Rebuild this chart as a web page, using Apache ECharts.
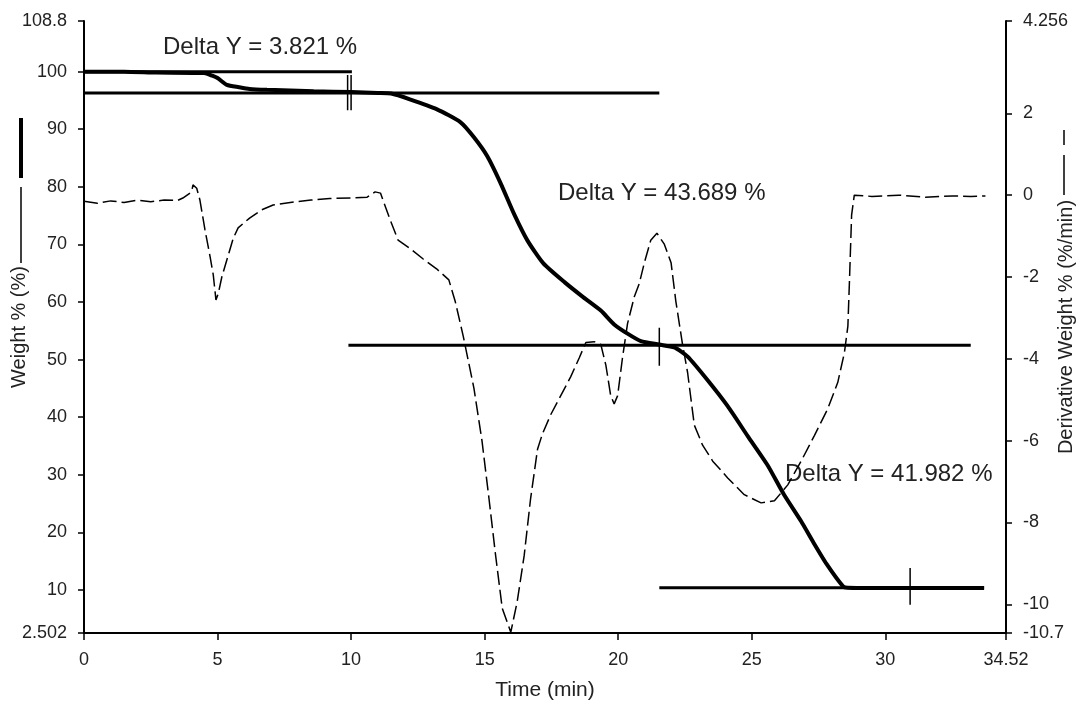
<!DOCTYPE html>
<html>
<head>
<meta charset="utf-8">
<title>TGA</title>
<script src="https://cdn.jsdelivr.net/npm/echarts@6/dist/echarts.min.js"></script>
<style>
  html, body { margin: 0; padding: 0; background: #fff; }
  #tga { width: 1081px; height: 702px; }
</style>
</head>
<body>
<div id="tga"></div>
<script>
// weight % curve (left axis)
var weightTime = [0, 1.5, 2.7, 4.5, 4.8, 5.0, 5.35, 5.8, 6.2, 6.85, 8.6, 10.0, 11.0, 11.5, 12.2, 13.2, 14.1, 14.6, 15.1, 15.6, 16.1, 16.6, 17.2, 18.0, 18.7, 19.35, 19.85, 20.35, 20.85, 21.54, 22.1, 22.6, 23.35, 24.1, 24.85, 25.6, 26.2, 26.85, 27.3, 27.8, 28.42, 28.6, 30.0, 33.7];
var weightValue = [100, 100, 99.85, 99.75, 99.3, 98.9, 97.7, 97.3, 97.0, 96.85, 96.6, 96.45, 96.3, 96.2, 95.2, 93.5, 91.2, 88.6, 85.3, 80.6, 75.3, 70.7, 66.7, 63.4, 60.8, 58.5, 56.1, 54.5, 53.2, 52.6, 52.1, 50.5, 46.4, 41.9, 36.7, 31.6, 26.6, 21.9, 18.3, 14.5, 10.6, 10.35, 10.3, 10.3];

// derivative weight curve (right axis)
var derivTime = [0, 0.5, 1.0, 1.5, 2.0, 2.5, 3.0, 3.5, 3.7, 4.03, 4.08, 4.22, 4.34, 4.53, 4.72, 4.84, 4.94, 5.03, 5.16, 5.35, 5.59, 5.77, 6.2, 6.65, 7.08, 7.96, 8.5, 9.2, 10.0, 10.6, 10.9, 11.1, 11.46, 11.76, 12.2, 12.7, 13.2, 13.66, 13.9, 14.2, 14.6, 14.9, 15.16, 15.41, 15.66, 15.98, 16.22, 16.48, 16.72, 16.98, 17.16, 17.47, 17.85, 18.22, 18.54, 18.79, 19.1, 19.35, 19.54, 19.72, 19.85, 19.98, 20.16, 20.35, 20.6, 20.79, 20.98, 21.22, 21.45, 21.72, 21.98, 22.16, 22.41, 22.6, 22.85, 23.16, 23.54, 24.1, 24.72, 25.35, 25.85, 26.35, 26.85, 27.35, 27.84, 28.22, 28.47, 28.6, 28.66, 28.74, 28.84, 29.5, 30.5, 31.5, 32.5, 33.2, 33.75];
var derivValue = [-0.15, -0.2, -0.14, -0.18, -0.12, -0.16, -0.12, -0.13, -0.07, 0.08, 0.25, 0.17, -0.12, -0.85, -1.5, -1.95, -2.56, -2.4, -2.0, -1.58, -1.05, -0.8, -0.56, -0.36, -0.24, -0.16, -0.12, -0.08, -0.07, -0.05, 0.08, 0.05, -0.6, -1.1, -1.3, -1.56, -1.8, -2.07, -2.6, -3.45, -4.72, -6.0, -7.4, -8.8, -10.1, -10.68, -9.93, -8.81, -7.42, -6.21, -5.84, -5.37, -4.9, -4.44, -3.98, -3.6, -3.58, -3.65, -4.16, -4.9, -5.1, -4.9, -3.98, -3.14, -2.49, -2.16, -1.65, -1.1, -0.93, -1.19, -1.65, -2.6, -3.65, -4.34, -5.62, -6.11, -6.5, -6.91, -7.32, -7.52, -7.47, -7.08, -6.5, -5.87, -5.23, -4.58, -3.85, -3.2, -2.08, -0.48, 0.0, -0.03, 0.0, -0.05, -0.02, -0.03, -0.02];

// step analysis lines (weight %)
var stepLevel = [100, 96.3, 52.5, 10.35];
var stepStart = [0, 0, 9.9, 21.54];
var stepEnd = [10.03, 21.54, 33.2, 33.7];

// vertical cursors (weight %)
var cursorTime = [9.87, 10.0, 21.54, 30.93];
var cursorLow = [93.3, 93.3, 48.9, 7.4];
var cursorHigh = [99.4, 99.4, 55.5, 13.8];

var deltaLabels = ['Delta Y = 3.821 %', 'Delta Y = 43.689 %', 'Delta Y = 41.982 %'];

var xTicks = [0, 5, 10, 15, 20, 25, 30, 34.52];
var leftTicks = [2.502, 10, 20, 30, 40, 50, 60, 70, 80, 90, 100, 108.8];
var rightTicks = [-10.7, -10, -8, -6, -4, -2, 0, 2, 4.256];

var FONT = '"Liberation Sans", Arial, sans-serif';
var INK = '#222';

function zip(a, b) {
    return a.map(function(v, i) { return [v, b[i]]; });
}

var series = [
    {
        name: 'Weight',
        type: 'line',
        yAxisIndex: 0,
        data: zip(weightTime, weightValue),
        smooth: 0.2,
        showSymbol: false,
        lineStyle: { color: '#000', width: 4 },
        z: 4
    },
    {
        name: 'Deriv. Weight',
        type: 'line',
        yAxisIndex: 1,
        data: zip(derivTime, derivValue),
        showSymbol: false,
        lineStyle: { color: '#000', width: 1.5, type: [14, 5] },
        z: 3
    }
];

stepLevel.forEach(function(lvl, i) {
    series.push({
        type: 'line',
        yAxisIndex: 0,
        data: [[stepStart[i], lvl], [stepEnd[i], lvl]],
        showSymbol: false,
        lineStyle: { color: '#000', width: 3 },
        z: 2
    });
});

cursorTime.forEach(function(t, i) {
    series.push({
        type: 'line',
        yAxisIndex: 0,
        data: [[t, cursorLow[i]], [t, cursorHigh[i]]],
        showSymbol: false,
        lineStyle: { color: '#000', width: 1.5 },
        z: 2
    });
});

var axisCommon = {
    axisLine: { show: true, onZero: false, lineStyle: { color: '#000', width: 2 } },
    splitLine: { show: false },
    nameMoveOverlap: false,
    nameTextStyle: { color: INK, fontSize: 20, fontFamily: FONT }
};

var option = {
    animation: false,
    backgroundColor: '#fff',
    grid: { left: 84, right: 75, top: 21, bottom: 69, containLabel: false, outerBoundsMode: 'none' },
    xAxis: Object.assign({}, axisCommon, {
        type: 'value',
        min: 0,
        max: 34.52,
        name: 'Time (min)',
        nameLocation: 'middle',
        nameGap: 47,
        nameTextStyle: { color: INK, fontSize: 21, fontFamily: FONT },
        axisTick: { show: true, length: 7, customValues: xTicks, lineStyle: { color: '#000', width: 1.5 } },
        axisLabel: { customValues: xTicks, margin: 18, fontSize: 18, color: INK, fontFamily: FONT }
    }),
    yAxis: [
        Object.assign({}, axisCommon, {
            type: 'value',
            position: 'left',
            min: 2.502,
            max: 108.8,
            name: 'Weight % (%)',
            nameLocation: 'middle',
            nameRotate: 90,
            nameGap: 55,
            axisTick: { show: true, length: 6, customValues: leftTicks, lineStyle: { color: '#000', width: 1.5 } },
            axisLabel: { customValues: leftTicks, margin: 17, fontSize: 18, color: INK, fontFamily: FONT }
        }),
        Object.assign({}, axisCommon, {
            type: 'value',
            position: 'right',
            min: -10.7,
            max: 4.256,
            name: 'Derivative Weight % (%/min)',
            nameLocation: 'middle',
            nameRotate: 90,
            nameGap: 50,
            axisTick: { show: true, length: 6, customValues: rightTicks, lineStyle: { color: '#000', width: 1.5 } },
            axisLabel: { customValues: rightTicks, margin: 17, fontSize: 18, color: INK, fontFamily: FONT }
        })
    ],
    graphic: [
        // line samples next to the axis titles
        { type: 'line', shape: { x1: 21, y1: 118, x2: 21, y2: 178 }, style: { stroke: '#000', lineWidth: 4 } },
        { type: 'line', shape: { x1: 21, y1: 187, x2: 21, y2: 263 }, style: { stroke: '#000', lineWidth: 1.5 } },
        { type: 'line', shape: { x1: 1064, y1: 130, x2: 1064, y2: 145 }, style: { stroke: '#000', lineWidth: 1.5 } },
        { type: 'line', shape: { x1: 1064, y1: 155, x2: 1064, y2: 195 }, style: { stroke: '#000', lineWidth: 1.5 } },
        // delta annotations
        { type: 'text', left: 163, top: 35, style: { text: deltaLabels[0], fill: INK, fontSize: 24, fontFamily: FONT } },
        { type: 'text', left: 558, top: 181, style: { text: deltaLabels[1], fill: INK, fontSize: 24, fontFamily: FONT } },
        { type: 'text', left: 785, top: 462, style: { text: deltaLabels[2], fill: INK, fontSize: 24, fontFamily: FONT } }
    ],
    series: series
};

var chart = echarts.init(document.getElementById('tga'));
chart.setOption(option);
</script>
</body>
</html>
